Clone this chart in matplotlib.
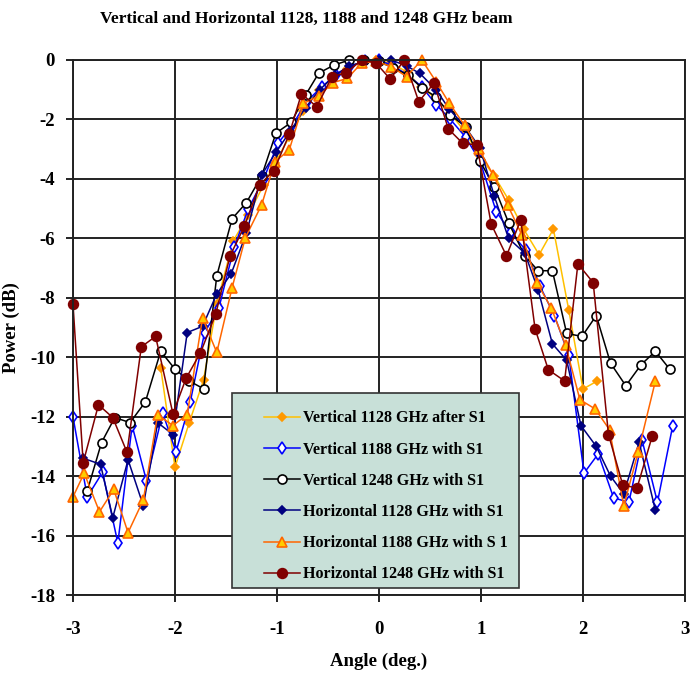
import matplotlib
matplotlib.use('Agg')
import matplotlib.pyplot as plt
from matplotlib.patches import Rectangle
import numpy as np

plt.rcParams['axes.unicode_minus'] = False

# Vertical 1128 GHz after S1
v1128_x = [-2.14, -2.0, -1.86, -1.72, -1.59, -1.43, -1.28, -1.13, -1.02, -0.88, -0.74, -0.59, -0.45, -0.31,
           -0.17, -0.03, 0.12, 0.27, 0.41, 0.56, 0.70, 0.84, 0.98, 1.13, 1.27, 1.42, 1.57, 1.71, 1.86, 2.0, 2.14]
v1128_y = [-10.35, -13.7, -12.2, -10.77, -8.2, -6.1, -5.2, -4.2, -3.47, -2.6, -1.7, -1.0, -0.6, -0.3,
           -0.05, 0.0, -0.1, -0.4, -0.9, -1.3, -1.8, -2.4, -3.2, -3.9, -4.7, -5.7, -6.55, -5.69, -8.4, -11.07, -10.8]

# Vertical 1188 GHz with S1
v1188_x = [-3.0, -2.86, -2.71, -2.56, -2.42, -2.28, -2.12, -1.99, -1.85, -1.71, -1.57, -1.42, -1.28, -1.13,
           -0.99, -0.85, -0.71, -0.56, -0.42, -0.28, -0.14, 0.0, 0.14, 0.28, 0.42, 0.56, 0.70, 0.85, 0.99,
           1.15, 1.29, 1.44, 1.58, 1.72, 1.86, 2.01, 2.15, 2.30, 2.45, 2.58, 2.73, 2.88]
v1188_y = [-12.0, -14.7, -13.87, -16.25, -12.3, -14.15, -11.88, -13.18, -11.5, -9.17, -8.35, -6.3, -5.0, -4.0,
           -2.8, -2.2, -1.4, -0.9, -0.5, -0.2, -0.05, 0.0, -0.2, -0.5, -0.9, -1.5, -2.0, -2.6, -3.4,
           -5.1, -5.8, -6.4, -7.62, -8.6, -9.92, -13.9, -13.25, -14.73, -14.88, -12.8, -14.88, -12.3]

# Vertical 1248 GHz with S1
v1248_x = [-2.86, -2.72, -2.59, -2.44, -2.29, -2.14, -2.0, -1.86, -1.72, -1.59, -1.44, -1.30, -1.15, -1.01,
           -0.86, -0.72, -0.59, -0.44, -0.29, -0.15, 0.0, 0.14, 0.28, 0.42, 0.56, 0.70, 0.85, 0.99, 1.13,
           1.27, 1.43, 1.56, 1.70, 1.84, 1.99, 2.13, 2.27, 2.42, 2.57, 2.71, 2.85]
v1248_y = [-14.5, -12.87, -12.03, -12.2, -11.5, -9.8, -10.4, -10.8, -11.06, -7.26, -5.34, -4.8, -3.9, -2.46,
           -2.1, -1.18, -0.44, -0.17, 0.0, 0.0, -0.05, -0.27, -0.5, -0.94, -1.24, -1.85, -2.25, -3.4, -4.27,
           -5.47, -6.59, -7.09, -7.09, -9.2, -9.3, -8.6, -10.2, -10.96, -10.25, -9.8, -10.4]

# Horizontal 1128 GHz with S1
h1128_x = [-2.90, -2.73, -2.61, -2.46, -2.31, -2.17, -2.02, -1.88, -1.73, -1.59, -1.45, -1.30, -1.15, -1.01,
           -0.87, -0.72, -0.58, -0.43, -0.29, -0.14, 0.0, 0.12, 0.27, 0.40, 0.56, 0.69, 0.85, 0.99, 1.13,
           1.27, 1.43, 1.56, 1.70, 1.84, 1.98, 2.13, 2.27, 2.40, 2.55, 2.71]
h1128_y = [-13.4, -13.6, -15.4, -13.45, -15.0, -12.2, -12.6, -9.17, -8.96, -7.87, -7.2, -5.83, -3.87, -3.1,
           -2.4, -1.6, -1.0, -0.5, -0.2, -0.05, 0.0, 0.0, -0.2, -0.45, -1.0, -1.66, -2.27, -2.96, -4.57,
           -6.0, -6.5, -7.73, -9.55, -10.1, -12.3, -13.0, -14.0, -14.6, -12.86, -15.15]

# Horizontal 1188 GHz with S 1
h1188_x = [-3.0, -2.89, -2.74, -2.60, -2.46, -2.31, -2.17, -2.02, -1.88, -1.73, -1.59, -1.44, -1.31, -1.15,
           -1.02, -0.88, -0.74, -0.59, -0.45, -0.31, -0.17, -0.03, 0.12, 0.27, 0.42, 0.56, 0.69, 0.84, 0.98,
           1.12, 1.26, 1.40, 1.55, 1.69, 1.83, 1.97, 2.12, 2.26, 2.40, 2.54, 2.71]
h1188_y = [-14.7, -13.9, -15.2, -14.45, -15.9, -14.8, -11.93, -12.3, -11.93, -8.68, -9.84, -7.66, -5.98, -4.87,
           -3.42, -3.03, -1.46, -1.21, -0.76, -0.62, -0.1, -0.05, -0.22, -0.56, 0.0, -0.73, -1.46, -2.2, -3.0,
           -3.87, -4.87, -5.88, -7.5, -8.35, -9.6, -11.43, -11.74, -12.44, -15.0, -13.2, -10.8]

# Horizontal 1248 GHz with S1
h1248_x = [-3.0, -2.90, -2.75, -2.61, -2.47, -2.33, -2.19, -2.02, -1.89, -1.75, -1.60, -1.46, -1.32, -1.17,
           -1.03, -0.88, -0.76, -0.61, -0.46, -0.32, -0.17, -0.03, 0.11, 0.25, 0.39, 0.54, 0.68, 0.82, 0.96,
           1.10, 1.25, 1.39, 1.53, 1.66, 1.82, 1.95, 2.10, 2.25, 2.39, 2.53, 2.68]
h1248_y = [-8.2, -13.55, -11.6, -12.03, -13.2, -9.65, -9.3, -11.9, -10.7, -9.85, -8.54, -6.59, -5.6, -4.2,
           -3.72, -2.5, -1.14, -1.57, -0.56, -0.43, 0.0, -0.1, -0.64, 0.0, -1.4, -0.78, -2.32, -2.8, -2.86,
           -5.52, -6.59, -5.38, -9.04, -10.42, -10.8, -6.86, -7.49, -12.6, -14.3, -14.4, -12.64]

labels = ['Vertical 1128 GHz after S1', 'Vertical 1188 GHz with S1', 'Vertical 1248 GHz with S1',
          'Horizontal 1128 GHz with S1', 'Horizontal 1188 GHz with S 1', 'Horizontal 1248 GHz with S1']

serif = 'Liberation Serif'

fig = plt.figure(figsize=(6.91, 6.77), dpi=100)
ax = fig.add_axes([0.1056, 0.1211, 0.8857, 0.7903])

# line colour, marker, marker face, marker edge, size
styles = [
    ('#FFC000', 'D', '#FF9900', '#FF9900', 4.5),
    ('#0000FF', 'd', 'white', '#0000FF', 6.5),
    ('#000000', 'o', 'white', '#000000', 6.5),
    ('#000080', 'D', '#000080', '#000080', 4.5),
    ('#FF6600', '^', '#FFCC00', '#FF6600', 6.5),
    ('#800000', 'o', '#800000', '#800000', 7),
]
series = [(v1128_x, v1128_y), (v1188_x, v1188_y), (v1248_x, v1248_y),
          (h1128_x, h1128_y), (h1188_x, h1188_y), (h1248_x, h1248_y)]

for (xs, ys), (col, mk, mfc, mec, ms), lab in zip(series, styles, labels):
    ax.plot(xs, ys, color=col, lw=1.1, marker=mk, markerfacecolor=mfc, markeredgecolor=mec,
            markeredgewidth=1.2, markersize=ms, label=lab, clip_on=False)

ax.set_xlim(-3, 3)
ax.set_ylim(-18, 0)
ax.set_xticks(np.arange(-3, 4, 1))
ax.set_yticks(np.arange(-18, 1, 2))
ax.grid(True, color='#222222', lw=1.4)
ax.set_axisbelow(True)
for sp in ax.spines.values():
    sp.set_linewidth(1.4)
    sp.set_color('#222222')
ax.tick_params(direction='out', length=5, width=1.4, colors='#222222', pad=8)
for t in ax.get_xticklabels() + ax.get_yticklabels():
    t.set_fontfamily(serif)
    t.set_fontweight('bold')
    t.set_fontsize(13.5)
    t.set_color('black')
ax.tick_params(axis='x', pad=14)

ax.set_xlabel('Angle (deg.)', fontfamily=serif, fontweight='bold', fontsize=13.5, labelpad=10)
ax.set_ylabel('Power (dB)', fontfamily=serif, fontweight='bold', fontsize=13.5)
ax.yaxis.set_label_coords(-0.087, 0.5)
fig.text(0.444, 0.972, 'Vertical and Horizontal 1128, 1188 and 1248 GHz beam', ha='center', va='center',
         fontfamily=serif, fontweight='bold', fontsize=12.5)

# legend box drawn separately so the entries can sit inset like the original
ax.add_patch(Rectangle((0.26, 0.013), 0.469, 0.3646, transform=ax.transAxes, facecolor='#C8E0D8',
                       edgecolor='#333333', lw=1.2, zorder=4.9, clip_on=False))
leg = ax.legend(loc='upper left', bbox_to_anchor=(0.312, 0.345), borderaxespad=0, borderpad=0,
                prop={'family': serif, 'weight': 'bold', 'size': 11.5}, frameon=False,
                labelspacing=0.95, handlelength=2.25, handletextpad=0.2)

fig.savefig('out.png', dpi=100)
